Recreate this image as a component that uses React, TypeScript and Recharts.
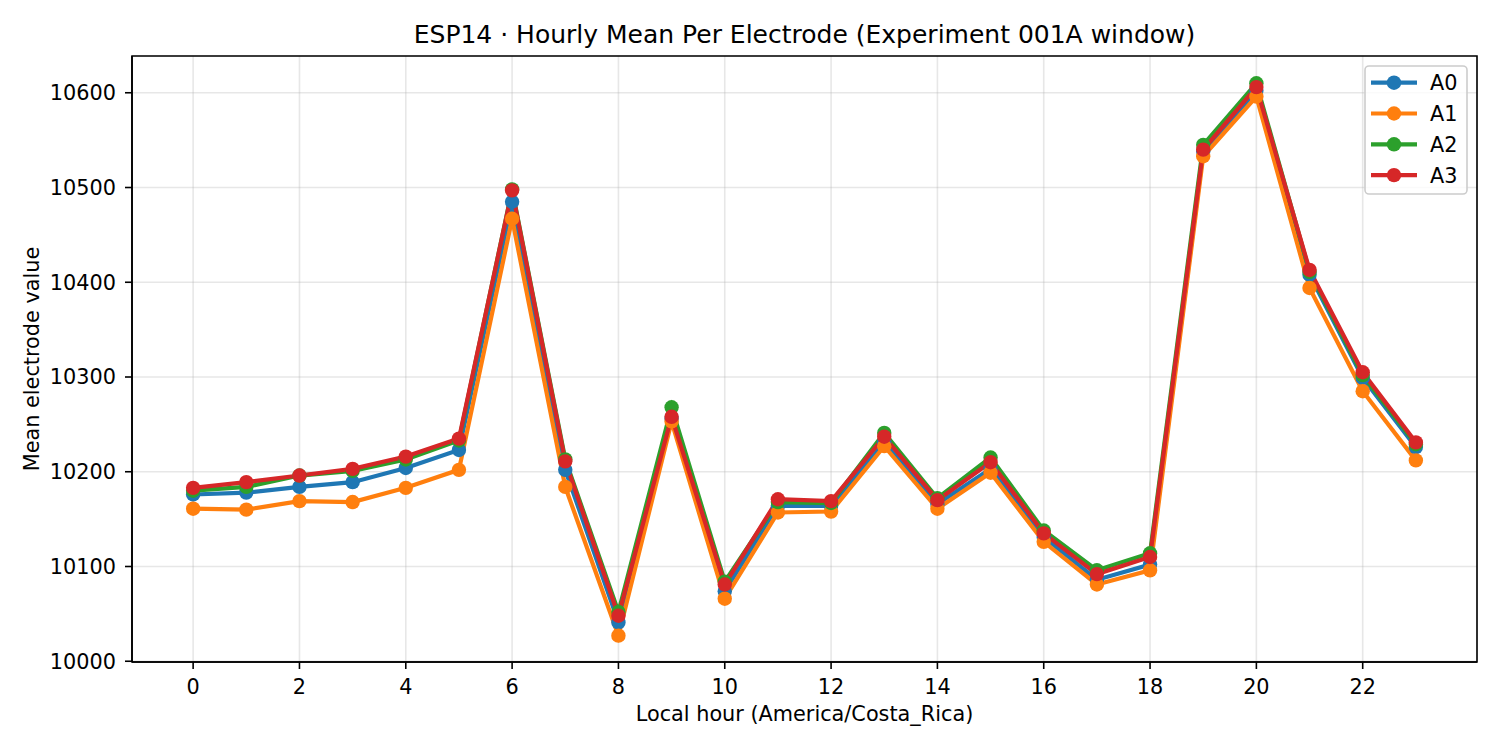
import React from "react";
import {
  LineChart, Line, XAxis, YAxis, CartesianGrid, ReferenceArea,
} from "recharts";

const hours = [0, 1, 2, 3, 4, 5, 6, 7, 8, 9, 10, 11, 12, 13, 14, 15, 16, 17, 18, 19, 20, 21, 22, 23];
const a0 = [10176, 10178, 10184, 10189, 10204, 10223, 10485, 10202, 10041, 10256, 10074, 10164, 10164, 10231, 10166, 10203, 10131, 10086, 10102, 10538, 10602, 10408, 10299, 10226];
const a1 = [10161, 10160, 10169, 10168, 10183, 10202, 10467, 10184, 10027, 10253, 10066, 10157, 10158, 10227, 10161, 10199, 10126, 10081, 10096, 10533, 10596, 10394, 10285, 10212];
const a2 = [10180, 10184, 10196, 10201, 10213, 10233, 10498, 10213, 10052, 10268, 10084, 10168, 10167, 10241, 10172, 10215, 10138, 10096, 10114, 10545, 10610, 10411, 10302, 10229];
const a3 = [10183, 10189, 10196, 10203, 10216, 10235, 10497, 10211, 10048, 10258, 10081, 10171, 10169, 10237, 10170, 10210, 10135, 10092, 10110, 10540, 10606, 10413, 10305, 10231];
const xTicks = [0, 2, 4, 6, 8, 10, 12, 14, 16, 18, 20, 22];
const yTicks = [10000, 10100, 10200, 10300, 10400, 10500, 10600];

const series = [
  { key: "A0", color: "#1f77b4" },
  { key: "A1", color: "#ff7f0e" },
  { key: "A2", color: "#2ca02c" },
  { key: "A3", color: "#d62728" },
];

const data = hours.map((h, i) => ({ hour: h, A0: a0[i], A1: a1[i], A2: a2[i], A3: a3[i] }));

const X_DOMAIN: [number, number] = [-1.15, 24.15];
const Y_DOMAIN: [number, number] = [9999.2, 10638.8];
const font = "'DejaVu Sans', sans-serif";
const FS = 20.8;
const DOT_R = 7.2;

export default function App() {
  return (
    <div style={{ position: "absolute", left: 0, top: 0, width: 1500, height: 750, background: "#fff", fontFamily: font }}>
      <LineChart width={1500} height={750} data={data}
        margin={{ top: 56, right: 23, left: 0, bottom: 0 }}>
        <CartesianGrid stroke="#b0b0b0" strokeOpacity={0.3} strokeWidth={1.6} />
        <XAxis dataKey="hour" type="number" domain={X_DOMAIN} ticks={xTicks}
          allowDataOverflow height={88} stroke="#000" strokeWidth={1.6} tickSize={7} tickMargin={10}
          tick={{ fill: "#000", fontSize: FS, fontFamily: font }}
          label={{ value: "Local hour (America/Costa_Rica)", position: "center", dy: 8, fill: "#000", fontSize: FS, fontFamily: font }} />
        <YAxis type="number" domain={Y_DOMAIN} ticks={yTicks} allowDataOverflow
          width={132} stroke="#000" strokeWidth={1.6} tickSize={7} tickMargin={9}
          tick={{ fill: "#000", fontSize: FS, fontFamily: font }}
          label={{ value: "Mean electrode value", position: "center", angle: -90, dx: -34.5, fill: "#000", fontSize: FS, fontFamily: font }} />
        {series.map((s) => (
          <Line key={s.key} type="linear" dataKey={s.key} name={s.key} stroke={s.color}
            strokeWidth={4.2} dot={{ r: DOT_R, fill: s.color, stroke: s.color, strokeWidth: 0 }}
            activeDot={false} isAnimationActive={false} />
        ))}
        <ReferenceArea x1={X_DOMAIN[0]} x2={X_DOMAIN[1]} y1={Y_DOMAIN[0]} y2={Y_DOMAIN[1]}
          fill="none" stroke="#000" strokeWidth={1.6} ifOverflow="visible" />
      </LineChart>
      <svg width={1500} height={750} style={{ position: "absolute", left: 0, top: 0, pointerEvents: "none" }}>
        <text x={804.5} y={43.3} textAnchor="middle" fontSize={25} fontFamily={font} fill="#000">
          ESP14 · Hourly Mean Per Electrode (Experiment 001A window)
        </text>
        <rect x={1365} y={66} width={102} height={128} rx={4} fill="#fff" fillOpacity={0.8}
          stroke="#cccccc" strokeWidth={1.6} />
        {series.map((s, i) => {
          const cy = 82.7 + i * 30.8;
          return (
            <g key={s.key}>
              <line x1={1371} y1={cy} x2={1417} y2={cy} stroke={s.color} strokeWidth={4.2} />
              <circle cx={1394} cy={cy} r={DOT_R} fill={s.color} />
              <text x={1430} y={cy + 7.6} fontSize={FS} fontFamily={font} fill="#000">{s.key}</text>
            </g>
          );
        })}
      </svg>
    </div>
  );
}
